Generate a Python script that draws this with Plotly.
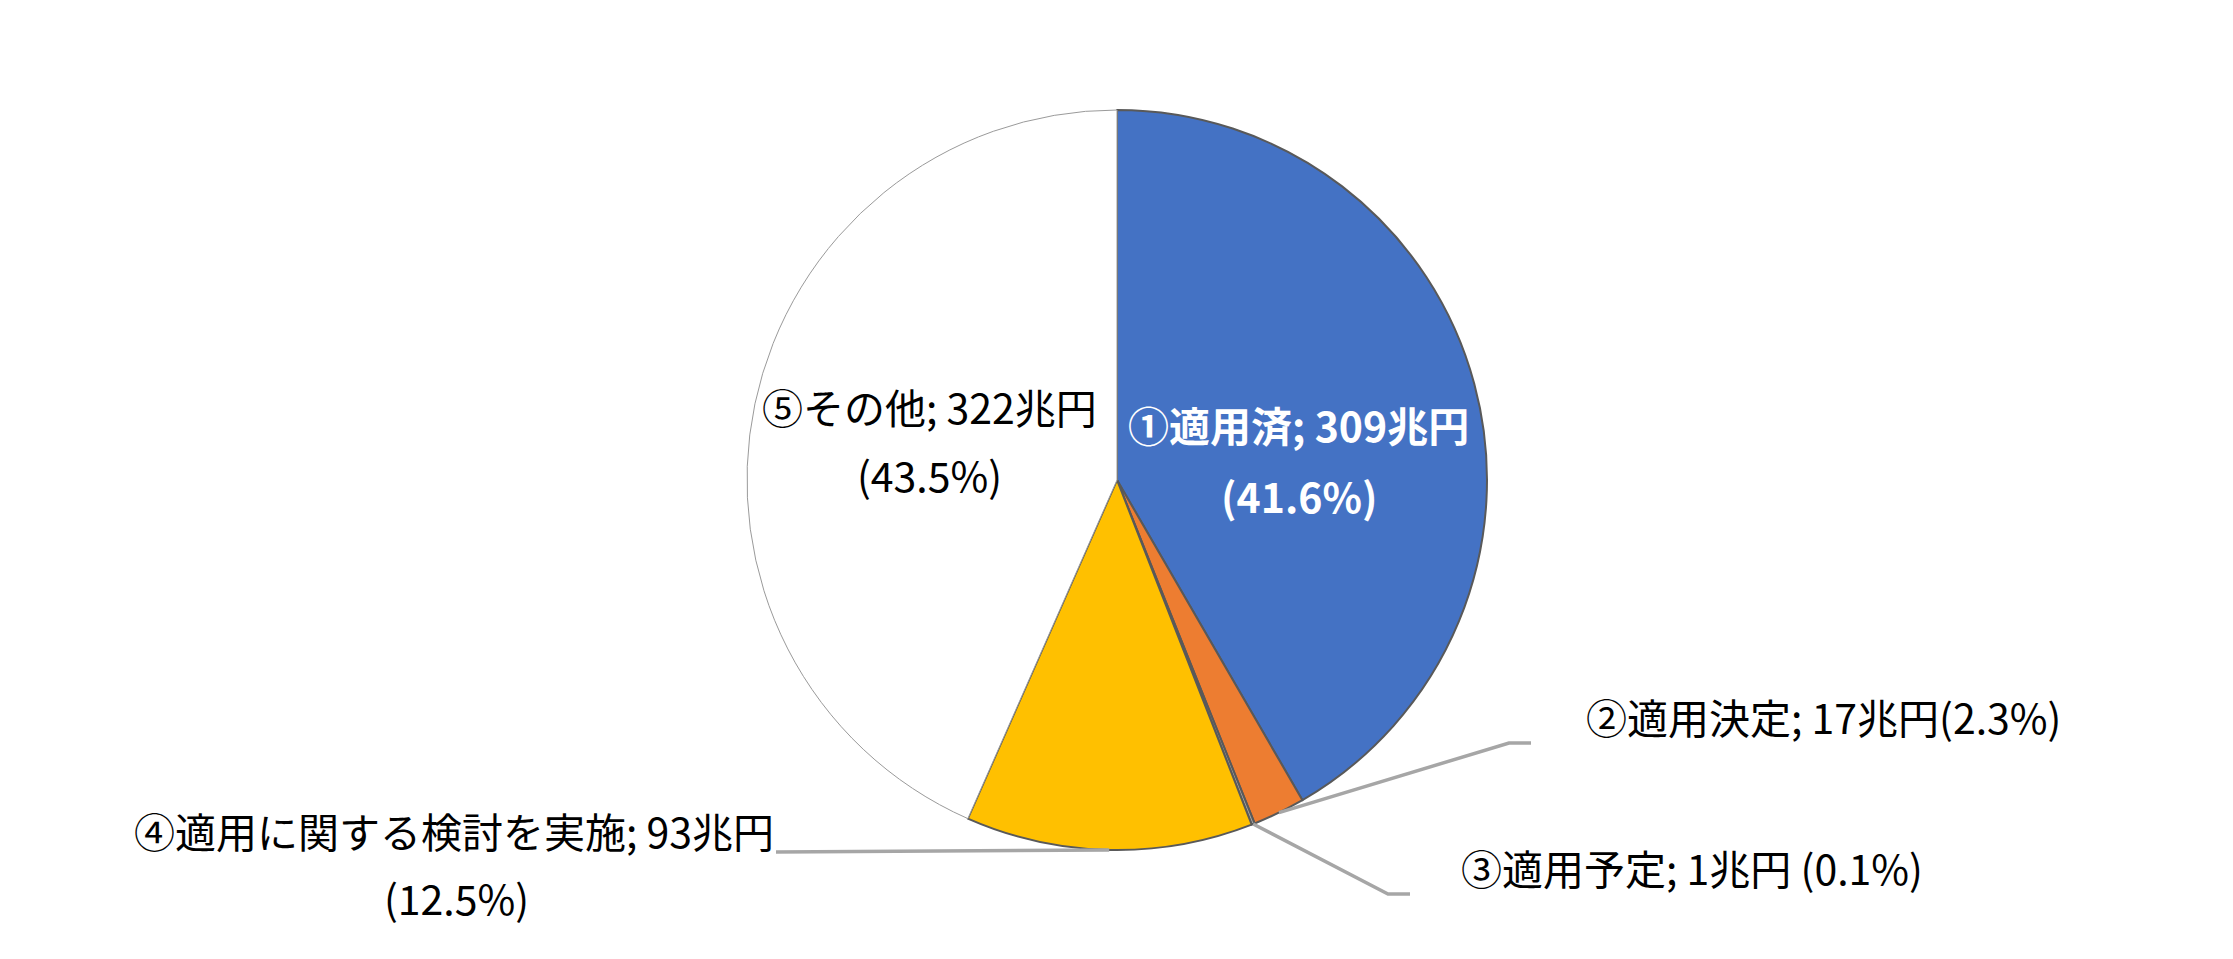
import math
import plotly.graph_objects as go

# ---- data ----
labels = ["①適用済", "②適用決定", "③適用予定", "④適用に関する検討を実施", "⑤その他"]
values = [309, 17, 1, 93, 322]
pct_text = ["41.6%", "2.3%", "0.1%", "12.5%", "43.5%"]
colors = ["#4472C4", "#ED7D31", "#A5A5A5", "#FFC000", "#FFFFFF"]

W, H = 2233, 959
OFF = 8                      # default page body margin
CX, CY, R = 1117, 480, 370   # pie centre / radius in page pixels (layout)
FONT = "Noto Sans CJK JP"
FS = 41
TY = -3                      # small vertical text nudge

def px(x):
    return (x - OFF) / W

def py(y):
    return 1 - (y - OFF) / H

fig = go.Figure(go.Pie(
    labels=labels,
    values=values,
    sort=False,
    direction="clockwise",
    rotation=0,
    textinfo="none",
    hoverinfo="label+value+percent",
    marker=dict(colors=colors,
                line=dict(color=["#595959", "#595959", "#595959", "#595959", "#9a9a9a"],
                          width=[2, 2, 2, 2, 1])),
    domain=dict(x=[px(CX - R), px(CX + R)], y=[py(CY + R), py(CY - R)]),
    showlegend=False,
))

total = sum(values)
cum = [sum(values[:i]) for i in range(len(values))]

def edge_point(i):
    th = math.radians((cum[i] + values[i] / 2) / total * 360)
    return CX + R * math.sin(th), CY - R * math.cos(th)

# leader lines: slice edge -> elbow -> end (elbow/end are label layout positions)
leaders = {
    1: [(1509, 743), (1531, 743)],
    2: [(1388, 894), (1410, 894)],
    3: [(776, 852)],
}
shapes = []
for i, pts in leaders.items():
    x0, y0 = edge_point(i)
    path = f"M {px(x0)} {py(y0)}"
    for (x, y) in pts:
        path += f" L {px(x)} {py(y)}"
    shapes.append(dict(type="path", xref="paper", yref="paper", path=path,
                       line=dict(color="#A6A6A6", width=3.5)))

def ann(text, x, y, color="#000000", bold=False):
    t = f"<b>{text}</b>" if bold else text
    return dict(text=t, x=px(x), y=py(y + TY), xref="paper", yref="paper",
                xanchor="center", yanchor="middle", showarrow=False,
                font=dict(family=FONT, size=FS, color=color))

annotations = [
    ann(f"{labels[0]}; {values[0]}兆円", 1298, 427, "#FFFFFF", True),
    ann(f"({pct_text[0]})", 1299, 498, "#FFFFFF", True),
    ann(f"{labels[4]}; {values[4]}兆円", 929, 409),
    ann(f"({pct_text[4]})", 929, 477),
    ann(f"{labels[1]}; {values[1]}兆円({pct_text[1]})", 1823, 719),
    ann(f"{labels[2]}; {values[2]}兆円 ({pct_text[2]})", 1692, 870),
    ann(f"{labels[3]}; {values[3]}兆円", 454, 833),
    ann(f"({pct_text[3]})", 456, 900),
]

fig.update_layout(
    width=W, height=H,
    margin=dict(l=0, r=0, t=0, b=0),
    paper_bgcolor="#FFFFFF",
    plot_bgcolor="#FFFFFF",
    font=dict(family=FONT, size=FS, color="#000000"),
    shapes=shapes,
    annotations=annotations,
)

fig.write_html("out.html")
